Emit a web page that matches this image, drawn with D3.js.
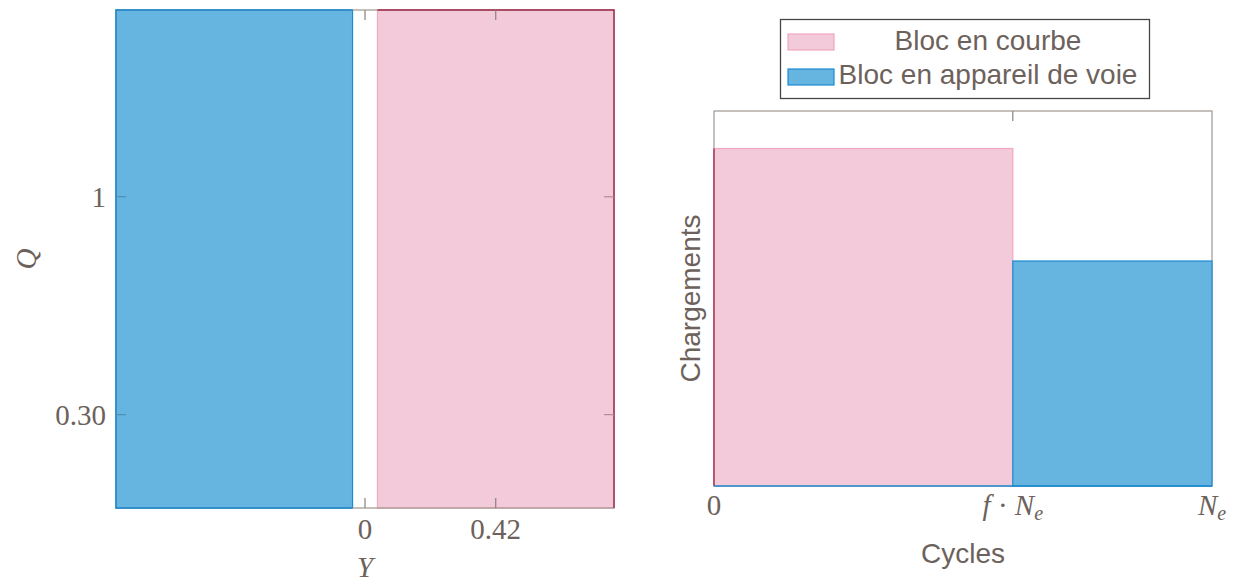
<!DOCTYPE html>
<html><head><meta charset="utf-8">
<script src="https://cdn.jsdelivr.net/npm/d3@7"></script>
<style>body{margin:0;background:#fff}svg{display:block}</style>
</head><body>
<script>
// ---- data ----
const leftXDomain = [-0.8, 0.8];
const leftYDomain = [0, 1.6];
const leftBars = [
  {name: "Bloc en appareil de voie", x0: -0.8, x1: -0.04, y: 1.6},
  {name: "Bloc en courbe", x0: 0.04, x1: 0.8, y: 1.6}
];
const leftXTicks = [0, 0.42];
const leftXTickLabels = ["0", "0.42"];
const leftYTicks = [0.30, 1];
const leftYTickLabels = ["0.30", "1"];

const rightXDomain = [0, 1];
const rightYDomain = [0, 1.1];
const fShare = 0.6;
const rightBars = [
  {name: "Bloc en courbe", x0: 0, x1: fShare, y: 0.99},
  {name: "Bloc en appareil de voie", x0: fShare, x1: 1, y: 0.66}
];
const rightXTicks = [0, fShare, 1];
const legendNames = ["Bloc en courbe", "Bloc en appareil de voie"];

// ---- styles ----
const C = {
  blueFill: "#66b5e1", blueStroke: "#1b8bd1",
  pinkFill: "#f3cada", pinkStroke: "#f1a7c1",
  crimson: "#a3304f", axis: "#a0978f", text: "#6d625b"
};
const fillOf = n => n === "Bloc en courbe" ? C.pinkFill : C.blueFill;
const strokeOf = n => n === "Bloc en courbe" ? C.pinkStroke : C.blueStroke;
const serif = "'Liberation Serif', 'DejaVu Serif', serif";
const sans = "'Liberation Sans', Arial, sans-serif";

const svg = d3.select("body").append("svg").attr("width", 1235).attr("height", 583);

// ================= LEFT =================
const L = {x0: 116, x1: 614, y0: 10, y1: 508};
const lx = d3.scaleLinear().domain(leftXDomain).range([L.x0, L.x1]);
const ly = d3.scaleLinear().domain(leftYDomain).range([L.y1, L.y0]);
const gl = svg.append("g");

gl.selectAll("rect.bar").data(leftBars).join("rect")
  .attr("x", d => lx(d.x0)).attr("y", d => ly(d.y))
  .attr("width", d => lx(d.x1) - lx(d.x0)).attr("height", d => ly(0) - ly(d.y))
  .attr("fill", d => fillOf(d.name)).attr("stroke", d => strokeOf(d.name)).attr("stroke-width", 1.2);

// axis box
gl.append("rect").attr("x", L.x0).attr("y", L.y0).attr("width", L.x1 - L.x0).attr("height", L.y1 - L.y0)
  .attr("fill", "none").attr("stroke", C.axis).attr("stroke-width", 1.2);
// coloured overlays of the box
const pinkL = leftBars[1], blueL = leftBars[0];
gl.append("path").attr("fill", "none").attr("stroke", C.crimson).attr("stroke-width", 1.4)
  .attr("d", `M${lx(pinkL.x0)},${L.y0}H${L.x1}V${L.y1}`);
gl.append("path").attr("fill", "none").attr("stroke", C.blueStroke).attr("stroke-width", 1.4)
  .attr("d", `M${lx(blueL.x1)},${L.y0}H${L.x0}V${L.y1}H${lx(blueL.x1)}`);

// ticks
const tickLen = 10;
leftXTicks.forEach(v => {
  gl.append("line").attr("x1", lx(v)).attr("x2", lx(v)).attr("y1", L.y1).attr("y2", L.y1 - tickLen).attr("stroke", "#8a807a").attr("stroke-width", 1.2);
  gl.append("line").attr("x1", lx(v)).attr("x2", lx(v)).attr("y1", L.y0).attr("y2", L.y0 + tickLen).attr("stroke", "#8a807a").attr("stroke-width", 1.2);
});
leftYTicks.forEach(v => {
  gl.append("line").attr("x1", L.x0).attr("x2", L.x0 + tickLen).attr("y1", ly(v)).attr("y2", ly(v)).attr("stroke", "#4f8fb8").attr("stroke-width", 1.2);
  gl.append("line").attr("x1", L.x1).attr("x2", L.x1 - tickLen).attr("y1", ly(v)).attr("y2", ly(v)).attr("stroke", "#b58a98").attr("stroke-width", 1.2);
});
gl.selectAll("text.xt").data(leftXTicks).join("text")
  .attr("x", d => lx(d)).attr("y", 539).attr("text-anchor", "middle")
  .attr("font-family", serif).attr("font-size", 29).attr("fill", C.text)
  .text((d, i) => leftXTickLabels[i]);
gl.selectAll("text.yt").data(leftYTicks).join("text")
  .attr("x", 106).attr("y", d => ly(d)).attr("dy", "0.35em").attr("text-anchor", "end")
  .attr("font-family", serif).attr("font-size", 29).attr("fill", C.text)
  .text((d, i) => leftYTickLabels[i]);
gl.append("text").attr("x", lx(0)).attr("y", 577).attr("text-anchor", "middle")
  .attr("font-family", serif).attr("font-style", "italic").attr("font-size", 29).attr("fill", C.text).text("Y");
gl.append("text").attr("transform", `translate(36,${(L.y0 + L.y1) / 2}) rotate(-90)`).attr("text-anchor", "middle")
  .attr("font-family", serif).attr("font-style", "italic").attr("font-size", 29).attr("fill", C.text).text("Q");

// ================= RIGHT =================
const R = {x0: 714, x1: 1212, y0: 111, y1: 486};
const rx = d3.scaleLinear().domain(rightXDomain).range([R.x0, R.x1]);
const ry = d3.scaleLinear().domain(rightYDomain).range([R.y1, R.y0]);
const gr = svg.append("g");

gr.append("rect").attr("x", R.x0).attr("y", R.y0).attr("width", R.x1 - R.x0).attr("height", R.y1 - R.y0)
  .attr("fill", "none").attr("stroke", C.axis).attr("stroke-width", 1.2);
gr.selectAll("rect.bar").data(rightBars).join("rect")
  .attr("x", d => rx(d.x0)).attr("y", d => ry(d.y))
  .attr("width", d => rx(d.x1) - rx(d.x0)).attr("height", d => ry(0) - ry(d.y))
  .attr("fill", d => fillOf(d.name)).attr("stroke", d => strokeOf(d.name)).attr("stroke-width", 1.2);
// overlays
gr.append("line").attr("x1", R.x0).attr("x2", R.x0).attr("y1", ry(rightBars[0].y)).attr("y2", R.y1)
  .attr("stroke", C.crimson).attr("stroke-width", 1.4);
gr.append("line").attr("x1", R.x0).attr("x2", R.x1).attr("y1", R.y1).attr("y2", R.y1)
  .attr("stroke", C.blueStroke).attr("stroke-width", 1.4);
gr.append("line").attr("x1", rx(fShare)).attr("x2", rx(fShare)).attr("y1", R.y0).attr("y2", R.y0 + tickLen)
  .attr("stroke", "#8a807a").attr("stroke-width", 1.2);

// x tick labels
const lab = gr.append("g").attr("font-family", serif).attr("font-size", 29).attr("fill", C.text).attr("text-anchor", "middle");
lab.append("text").attr("x", rx(rightXTicks[0])).attr("y", 515).text("0");
const t2 = lab.append("text").attr("x", rx(rightXTicks[1])).attr("y", 515);
t2.append("tspan").attr("font-style", "italic").text("f");
t2.append("tspan").text(" · ");
t2.append("tspan").attr("font-style", "italic").text("N");
t2.append("tspan").attr("font-style", "italic").attr("font-size", 20).attr("dy", 5).text("e");
const t3 = lab.append("text").attr("x", rx(rightXTicks[2])).attr("y", 515);
t3.append("tspan").attr("font-style", "italic").text("N");
t3.append("tspan").attr("font-style", "italic").attr("font-size", 20).attr("dy", 5).text("e");

gr.append("text").attr("x", (R.x0 + R.x1) / 2).attr("y", 563).attr("text-anchor", "middle")
  .attr("font-family", sans).attr("font-size", 28).attr("fill", C.text).text("Cycles");
gr.append("text").attr("transform", `translate(700,${(R.y0 + R.y1) / 2}) rotate(-90)`).attr("text-anchor", "middle")
  .attr("font-family", sans).attr("font-size", 28).attr("fill", C.text).text("Chargements");

// legend
const lg = svg.append("g");
lg.append("rect").attr("x", 780.5).attr("y", 19.5).attr("width", 369).attr("height", 79)
  .attr("fill", "#fff").attr("stroke", "#4a4542").attr("stroke-width", 1.3);
legendNames.forEach((n, i) => {
  const yy = 34 + i * 35;
  lg.append("rect").attr("x", 788).attr("y", yy).attr("width", 46).attr("height", 16)
    .attr("fill", fillOf(n)).attr("stroke", strokeOf(n)).attr("stroke-width", 1.2);
  lg.append("text").attr("x", 988).attr("y", 50 + i * 34).attr("text-anchor", "middle")
    .attr("font-family", sans).attr("font-size", 28).attr("fill", C.text).text(n);
});
</script>
</body></html>
